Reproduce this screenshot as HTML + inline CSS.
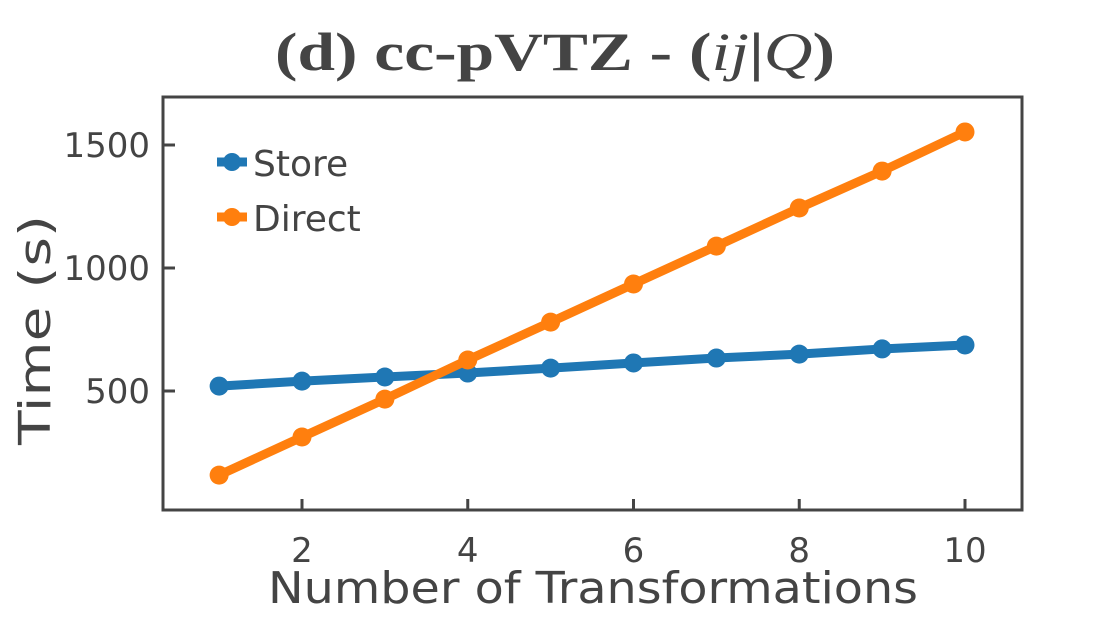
<!DOCTYPE html>
<html><head><meta charset="utf-8"><style>
body{margin:0;background:#fff}
svg{display:block}
text{fill:#444;font-family:"DejaVu Sans","Liberation Sans",sans-serif}
</style></head><body>
<svg width="1100" height="618">
<text x="555" y="70" text-anchor="middle" font-size="54" font-weight="bold" textLength="560" lengthAdjust="spacingAndGlyphs" style="font-family:'Liberation Serif',serif">(d) cc-pVTZ - (<tspan font-style="italic" font-weight="normal">ij</tspan>|<tspan font-style="italic" font-weight="normal">Q</tspan>)</text>
<g id="axes"></g>
<g id="series"></g>
<text x="593" y="603" text-anchor="middle" font-size="44" textLength="650" lengthAdjust="spacingAndGlyphs">Number of Transformations</text>
<text transform="translate(50,330) rotate(-90)" text-anchor="middle" font-size="44" textLength="230" lengthAdjust="spacingAndGlyphs">Time (s)</text>
<g>
<g>
<line x1="217" y1="162" x2="247" y2="162" stroke="#1f77b4" stroke-width="9"/><circle cx="232" cy="162" r="9" fill="#1f77b4"/>
<text x="253" y="176" font-size="36">Store</text></g>
<g>
<line x1="217" y1="217" x2="247" y2="217" stroke="#ff7f0e" stroke-width="9"/><circle cx="232" cy="217" r="9" fill="#ff7f0e"/>
<text x="253" y="231" font-size="36">Direct</text></g>
</g>
</svg>
<script>
const xs=[1,2,3,4,5,6,7,8,9,10];
const store=[520,540,557,573,593,614,634,650,671,687];
const direct=[158,313,467,626,780,935,1089,1244,1394,1553];
const xTicks=[2,4,6,8,10];
const yTicks=[500,1000,1500];
const NS="http://www.w3.org/2000/svg";
const X=v=>302+(v-2)*82.875;
const Y=v=>514-v*0.246;
function mk(t,a,p){const e=document.createElementNS(NS,t);for(const k in a)e.setAttribute(k,a[k]);p.appendChild(e);return e;}
const ax=document.getElementById('axes');
const frame=mk('rect',{x:163,y:97,width:859,height:413,fill:'none',stroke:'#444','stroke-width':3},ax);


xTicks.forEach(t=>{
 const l=mk('line',{x1:X(t),x2:X(t),y1:510,y2:499,stroke:'#444','stroke-width':3},ax);
 
 
 const tx=mk('text',{x:X(t),y:562,'text-anchor':'middle','font-size':34},ax);tx.textContent=t;
 
 
});
yTicks.forEach(t=>{
 const l=mk('line',{x1:163,x2:175,y1:Y(t),y2:Y(t),stroke:'#444','stroke-width':3},ax);
 
 
 const tx=mk('text',{x:150,y:Y(t)+12,'text-anchor':'end','font-size':34},ax);tx.textContent=t;
 
 
});
const sg=document.getElementById('series');
[[store,'#1f77b4','store'],[direct,'#ff7f0e','direct']].forEach(([d,c,n])=>{
 const pl=mk('polyline',{points:xs.map((x,i)=>X(x)+','+Y(d[i])).join(' '),fill:'none',stroke:c,'stroke-width':9},sg);
 
 
 xs.forEach((x,i)=>{
  const p=mk('circle',{cx:X(x),cy:Y(d[i]),r:9.5,fill:c},sg);
  
  
 });
});
</script>
</body></html>
